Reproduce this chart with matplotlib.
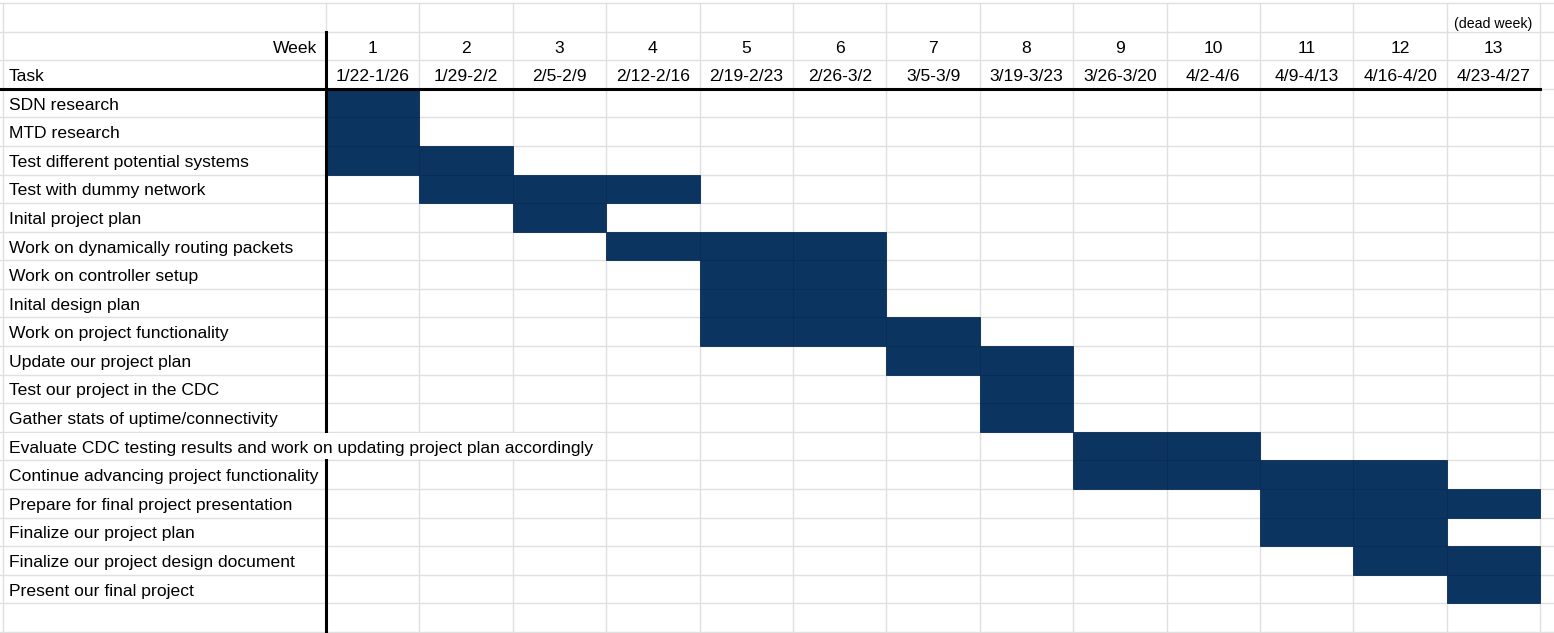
import matplotlib
matplotlib.use("Agg")
import matplotlib.pyplot as plt
from matplotlib.patches import Rectangle

plt.rcParams["font.family"] = ["Liberation Sans", "DejaVu Sans"]

tasks = [
    "SDN research",
    "MTD research",
    "Test different potential systems",
    "Test with dummy network",
    "Inital project plan",
    "Work on dynamically routing packets",
    "Work on controller setup",
    "Inital design plan",
    "Work on project functionality",
    "Update our project plan",
    "Test our project in the CDC",
    "Gather stats of uptime/connectivity",
    "Evaluate CDC testing results and work on updating project plan accordingly",
    "Continue advancing project functionality",
    "Prepare for final project presentation",
    "Finalize our project plan",
    "Finalize our project design document",
    "Present our final project",
]
start_week = [1, 1, 1, 2, 3, 4, 5, 5, 5, 7, 8, 8, 9, 9, 11, 11, 12, 13]
end_week = [1, 1, 2, 4, 3, 6, 6, 6, 7, 8, 8, 8, 10, 12, 13, 12, 13, 13]
weeks = list(range(1, 14))
week_dates = ["1/22-1/26", "1/29-2/2", "2/5-2/9", "2/12-2/16", "2/19-2/23",
              "2/26-3/2", "3/5-3/9", "3/19-3/23", "3/26-3/20", "4/2-4/6",
              "4/9-4/13", "4/16-4/20", "4/23-4/27"]
week_notes = {13: "(dead week)"}

BAR = "#0b3461"
GRID = "#e0e0e0"
FS = 12.6

# layout in cell units: one week column = 1.0, one row = 1.0
col_px = 93.4
label_w = 326 / col_px
n_weeks = len(weeks)
n_rows = len(tasks)
x_left = -label_w
x_right = (1554 - 326) / col_px
row_px = 28.6
y_top = -3 - 3 / row_px
y_bot = n_rows + 1 + 1 / row_px

fig = plt.figure(figsize=(15.54, 6.33), dpi=100)
ax = fig.add_axes([0, 0, 1, 1])
ax.set_xlim(x_left, x_right)
ax.set_ylim(y_bot, y_top)
ax.axis("off")

# light grid
for x in [x_left + 0.03] + list(range(0, n_weeks + 1)):
    ax.plot([x, x], [-3, n_rows + 1], color=GRID, lw=1, zorder=1)
for y in range(-3, n_rows + 2):
    ax.plot([x_left, x_right], [y, y], color=GRID, lw=1, zorder=1)

# bars, one cell per week
for i, (s, e) in enumerate(zip(start_week, end_week)):
    for w in range(s, e + 1):
        ax.barh(i + 0.5, 1, left=w - 1, height=1, color=BAR,
                edgecolor="#092c52", linewidth=0.6, zorder=2)

# heavy separators
ax.plot([x_left, n_weeks], [0, 0], color="black", lw=2.2, zorder=4)
ax.plot([0, 0], [-2, n_rows + 1], color="black", lw=2.2, zorder=4)

# header
pad = 9 / col_px
ax.text(-pad, -1.42, "Week", ha="right", va="center", fontsize=FS, zorder=5)
ax.text(x_left + pad, -0.42, "Task", ha="left", va="center", fontsize=FS, zorder=5)
for w, d in zip(weeks, week_dates):
    ax.text(w - 0.5, -1.42, str(w), ha="center", va="center", fontsize=FS, zorder=5)
    ax.text(w - 0.5, -0.42, d, ha="center", va="center", fontsize=FS, zorder=5)
    if w in week_notes:
        ax.text(w - 0.5, -2.27, week_notes[w], ha="center", va="center",
                fontsize=10.2, zorder=5)

# task names (overflowing text hides the grid beneath it)
for i, t in enumerate(tasks):
    ax.text(x_left + pad, i + 0.57, t, ha="left", va="center",
            fontsize=FS, zorder=6)
    if len(t) > 45:
        ax.add_patch(Rectangle((x_left + 0.05, i + 0.04), 3 + label_w - 0.07, 0.92,
                               facecolor="white", edgecolor="none", zorder=5))

fig.savefig("out.png", dpi=100)
